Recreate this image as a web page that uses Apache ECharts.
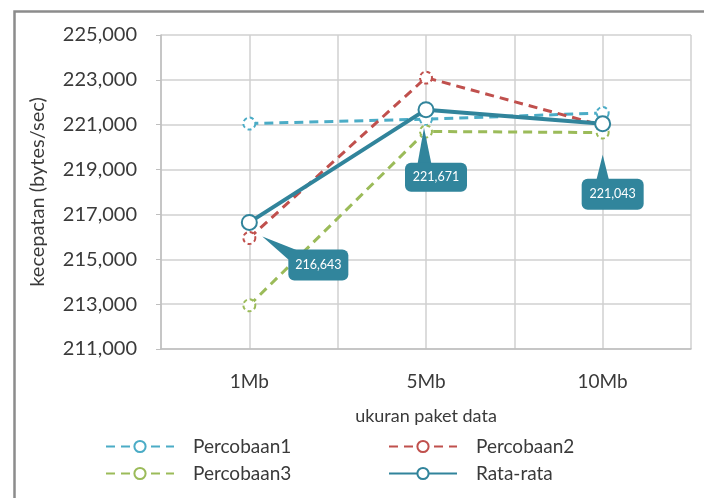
<!DOCTYPE html>
<html>
<head>
<meta charset="utf-8">
<script src="https://cdn.jsdelivr.net/npm/echarts@6/dist/echarts.min.js"></script>
<style>
html,body{margin:0;padding:0;background:#fff;}
#chart{width:704px;height:498px;}
</style>
</head>
<body>
<div id="chart"></div>
<script>
// ---- data ----
const categories = ['1Mb', '5Mb', '10Mb'];
const percobaan1 = [221050, 221250, 221520];
const percobaan2 = [215950, 223100, 220960];
const percobaan3 = [212950, 220700, 220650];
const rataRata = [216643, 221671, 221043];
const seriesNames = ['Percobaan1', 'Percobaan2', 'Percobaan3', 'Rata-rata'];
const yMin = 211000, yMax = 225000, yStep = 2000;
const yAxisTitle = 'kecepatan (bytes/sec)';
const xAxisTitle = 'ukuran paket data';

// ---- styling ----
const FONT = 'Lato, "Open Sans", sans-serif';
const TXT = '#3A3A3A';
const colors = { p1: '#4BACC6', p2: '#C0504D', p3: '#9BBB59', avg: '#31849B', box: '#31859C' };
// callout geometry relative to the data point (px)
const calloutGeom = [
  { bx: 39, by: 27, w: 60, h: 31, tip: [13, 14], base: [[39, 33], [56, 27]] },
  { bx: -21, by: 53, w: 62, h: 29, tip: [-2, 18], base: [[-9, 53], [6, 53]] },
  { bx: -21, by: 55, w: 62, h: 31, tip: [0, 31], base: [[-7, 55], [7, 55]] }
];
const fmt = v => Number(v).toLocaleString('en-US');

function dashedSeries(name, data, color) {
  return {
    name, type: 'line', data,
    symbol: 'emptyCircle', symbolSize: 12,
    lineStyle: { color, width: 3, type: [9, 6] },
    itemStyle: { color, borderColor: color, borderWidth: 2.5, borderType: [4, 3] },
    emphasis: { disabled: true },
    z: 2
  };
}

const legendText = { color: TXT, fontSize: 19, fontFamily: FONT, padding: [0, 0, 0, 14] };

const chart = echarts.init(document.getElementById('chart'), null, { renderer: 'canvas' });
chart.setOption({
  animation: false,
  backgroundColor: '#fff',
  textStyle: { fontFamily: FONT },
  graphic: [{
    type: 'rect', left: 12, top: 9, silent: true,
    shape: { width: 760, height: 560 },
    style: { fill: 'none', stroke: '#8C8C8C', lineWidth: 2.5 }
  }],
  grid: { left: 161, right: 13, top: 35, bottom: 149 },
  xAxis: [{
    type: 'category', data: categories, boundaryGap: true,
    axisLine: { show: true, lineStyle: { color: '#BFBFBF', width: 1.5 } },
    axisTick: { show: false },
    splitLine: { show: false },
    axisLabel: { color: TXT, fontSize: 19, margin: 23, fontFamily: FONT },
    name: xAxisTitle, nameLocation: 'middle', nameGap: 58,
    nameTextStyle: { color: TXT, fontSize: 18, fontFamily: FONT }
  }, {
    type: 'value', min: 0, max: 6, interval: 1, position: 'bottom',
    axisLine: { show: false }, axisTick: { show: false }, axisLabel: { show: false },
    splitLine: { show: true, lineStyle: { color: '#D0D0D0', width: 1.5 } }
  }],
  yAxis: {
    type: 'value', min: yMin, max: yMax, interval: yStep,
    axisLine: { show: true, lineStyle: { color: '#BFBFBF', width: 1.5 } },
    axisTick: { show: true, length: 5, lineStyle: { color: '#BFBFBF' } },
    splitLine: { show: true, lineStyle: { color: '#D0D0D0', width: 1.5 } },
    axisLabel: { color: TXT, fontSize: 20, margin: 24, formatter: v => fmt(v), fontFamily: FONT },
    name: yAxisTitle, nameLocation: 'middle', nameGap: 113, nameRotate: 90,
    nameTextStyle: { color: TXT, fontSize: 20, fontFamily: FONT }
  },
  legend: [{
    orient: 'vertical', left: 100, top: 432, itemWidth: 68, itemHeight: 14, itemGap: 8,
    data: [seriesNames[0], seriesNames[2]], textStyle: legendText
  }, {
    orient: 'vertical', left: 383, top: 432, itemWidth: 68, itemHeight: 14, itemGap: 8,
    data: [seriesNames[1], seriesNames[3]], textStyle: legendText
  }],
  series: [
    dashedSeries(seriesNames[0], percobaan1, colors.p1),
    dashedSeries(seriesNames[1], percobaan2, colors.p2),
    dashedSeries(seriesNames[2], percobaan3, colors.p3),
    {
      name: seriesNames[3], type: 'line', data: rataRata,
      symbol: 'emptyCircle', symbolSize: 15,
      lineStyle: { color: colors.avg, width: 4 },
      itemStyle: { color: colors.avg, borderColor: colors.avg, borderWidth: 4 },
      emphasis: { disabled: true },
      z: 4
    },
    {
      name: 'callouts', type: 'custom', z: 10, silent: true,
      data: rataRata.map((v, i) => [i, v]),
      renderItem: function (params, api) {
        const i = params.dataIndex;
        const p = api.coord([api.value(0), api.value(1)]);
        const g = calloutGeom[i];
        const x0 = p[0] + g.bx, y0 = p[1] + g.by;
        return {
          type: 'group',
          children: [
            { type: 'polygon', shape: { points: [
                [p[0] + g.tip[0], p[1] + g.tip[1]],
                [p[0] + g.base[0][0], p[1] + g.base[0][1] + 4],
                [p[0] + g.base[1][0], p[1] + g.base[1][1] + 4] ] },
              style: { fill: colors.box } },
            { type: 'rect', shape: { x: x0, y: y0, width: g.w, height: g.h, r: 6 },
              style: { fill: colors.box } },
            { type: 'text', x: x0 + g.w / 2, y: y0 + g.h / 2,
              style: { text: fmt(api.value(1)), fill: '#fff', fontSize: 12.5, fontFamily: FONT,
                       align: 'center', verticalAlign: 'middle' } }
          ]
        };
      }
    }
  ]
});
</script>
</body>
</html>
